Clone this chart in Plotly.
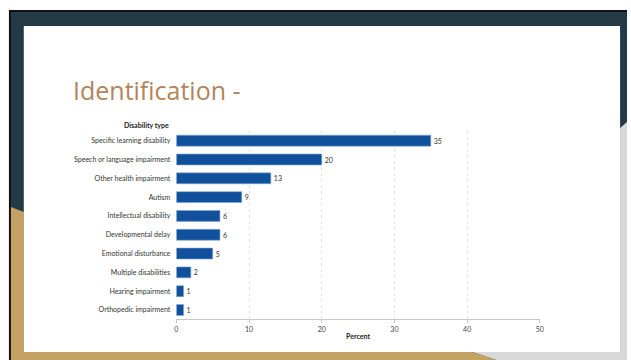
import plotly.graph_objects as go

categories = [
    "Specific learning disability",
    "Speech or language impairment",
    "Other health impairment",
    "Autism",
    "Intellectual disability",
    "Developmental delay",
    "Emotional disturbance",
    "Multiple disabilities",
    "Hearing impairment",
    "Orthopedic impairment",
]
percent = [35, 20, 13, 9, 6, 6, 5, 2, 1, 1]
x_ticks = [0, 10, 20, 30, 40, 50]

W, H = 631, 360
NAVY = "#253a47"
GOLD = "#c3a263"
GRAY = "#d9d9d9"
BAR = "#11509a"


def px(x):
    return x / W


def py(y):
    return 1 - y / H


def poly(points):
    s = "M " + " L ".join(f"{px(x):.5f},{py(y):.5f}" for x, y in points) + " Z"
    return s


shapes = [
    dict(type="rect", xref="paper", yref="paper", x0=px(7), x1=1, y0=0, y1=py(10),
         fillcolor="#111111", line_width=0, layer="below"),
    dict(type="rect", xref="paper", yref="paper", x0=px(9), x1=1, y0=0, y1=py(12),
         fillcolor=NAVY, line_width=0, layer="below"),
    dict(type="path", xref="paper", yref="paper",
         path=poly([(624, 128), (631, 122), (631, 360), (499, 360), (475, 352), (624, 352)]),
         fillcolor=GRAY, line_width=0, layer="below"),
    dict(type="path", xref="paper", yref="paper",
         path=poly([(9, 207), (22, 212), (22, 352), (475, 352), (499, 360), (9, 360)]),
         fillcolor=GOLD, line_width=0, layer="below"),
    dict(type="rect", xref="paper", yref="paper", x0=px(22), x1=px(624), y0=py(352), y1=py(26),
         fillcolor="#ffffff", line_width=0, layer="below"),
]

fig = go.Figure(
    go.Bar(
        x=percent,
        y=categories,
        orientation="h",
        marker=dict(color=BAR, line=dict(color="#7fa6d6", width=0.6)),
        width=0.58,
        text=[str(v) for v in percent],
        textposition="outside",
        cliponaxis=False,
        textfont=dict(size=7, color="#333333", family="Lato"),
    )
)

fig.update_layout(
    width=W,
    height=H,
    margin=dict(l=0, r=0, t=0, b=0),
    paper_bgcolor="#ffffff",
    plot_bgcolor="rgba(0,0,0,0)",
    showlegend=False,
    shapes=shapes,
    font=dict(family="Lato", size=7, color="#333333"),
    xaxis=dict(
        domain=[px(176), px(543)],
        range=[0, 50],
        tickvals=x_ticks,
        ticktext=[str(t) for t in x_ticks],
        showgrid=True,
        gridcolor="#e4e4e4",
        griddash="dot",
        gridwidth=1,
        zeroline=False,
        showline=True,
        linecolor="#c8c8c8",
        linewidth=1,
        ticks="outside",
        ticklen=3,
        tickcolor="#c8c8c8",
        tickfont=dict(size=7, color="#444444"),
        title=dict(text="<b>Percent</b>", font=dict(size=7, color="#222222"), standoff=2),
    ),
    yaxis=dict(
        domain=[py(319.4), py(131.3)],
        autorange="reversed",
        showgrid=False,
        zeroline=False,
        showline=False,
        ticks="",
        ticklabelstandoff=5,
        tickfont=dict(size=7, color="#333333"),
    ),
    annotations=[
        dict(text="Identification -", xref="paper", yref="paper", x=px(70), y=py(90),
             xanchor="left", yanchor="middle", showarrow=False,
             font=dict(family="Open Sans", size=25, color="#b4845a")),
        dict(text="<b>Disability type</b>", xref="paper", yref="paper", x=px(171), y=py(125),
             xanchor="right", yanchor="middle", showarrow=False,
             font=dict(size=7, color="#222222")),
    ],
    bargap=0.45,
)

fig.write_html("out.html")
